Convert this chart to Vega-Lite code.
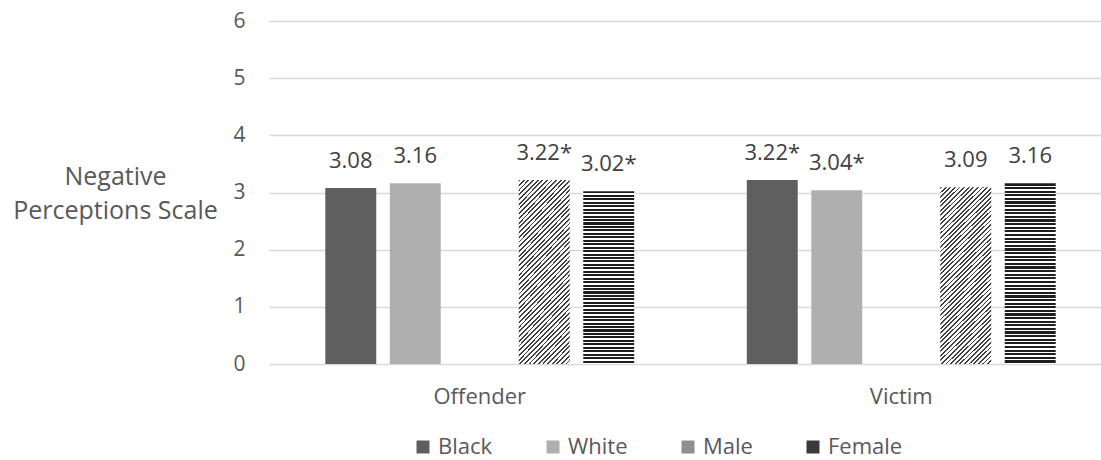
{
  "$schema": "https://vega.github.io/schema/vega-lite/v6.json",
  "width": 832,
  "height": 343,
  "autosize": "none",
  "padding": {"left": 269, "top": 21, "right": 0, "bottom": 96},
  "background": "white",
  "config": {
    "font": "Open Sans",
    "view": {"stroke": null},
    "axis": {"labelFont": "Open Sans", "titleFont": "Open Sans"},
    "legend": {"labelFont": "Open Sans"}
  },
  "data": {
    "values": [
      {"role": "Offender", "group": "Black", "value": 3.08, "label": "3.08"},
      {"role": "Offender", "group": "White", "value": 3.16, "label": "3.16"},
      {"role": "Offender", "group": "Male", "value": 3.22, "label": "3.22*"},
      {"role": "Offender", "group": "Female", "value": 3.02, "label": "3.02*"},
      {"role": "Victim", "group": "Black", "value": 3.22, "label": "3.22*"},
      {"role": "Victim", "group": "White", "value": 3.04, "label": "3.04*"},
      {"role": "Victim", "group": "Male", "value": 3.09, "label": "3.09"},
      {"role": "Victim", "group": "Female", "value": 3.16, "label": "3.16"}
    ]
  },
  "layer": [
    {
      "mark": {"type": "bar"},
      "encoding": {
        "x": {
          "field": "role", "type": "nominal", "sort": ["Offender", "Victim"],
          "scale": {"range": [0, 843], "paddingInner": 0.235, "paddingOuter": 0.1175},
          "axis": {"title": null, "labelAngle": 0, "labelFontSize": 22, "labelColor": "#595959", "labelPadding": 22, "ticks": false, "tickSize": 0, "domain": false, "grid": false}
        },
        "xOffset": {
          "field": "group", "type": "nominal",
          "scale": {"domain": ["Black", "White", "gap", "Male", "Female"], "paddingInner": 0.21, "paddingOuter": 0.105}
        },
        "y": {
          "field": "value", "type": "quantitative",
          "scale": {"domain": [0, 6]},
          "axis": {
            "values": [0, 1, 2, 3, 4, 5, 6], "format": "d",
            "title": ["Negative", "Perceptions Scale"],
            "titleAngle": 0, "titleAlign": "center", "titleBaseline": "middle",
            "titleX": -154, "titleY": 155, "titleFontSize": 25, "titleFontWeight": "normal",
            "titleColor": "#595959", "titleLineHeight": 34,
            "labelFontSize": 21, "labelColor": "#595959", "labelPadding": 24,
            "ticks": false, "tickSize": 0, "domain": false,
            "gridColor": "#d9d9d9", "gridWidth": 1.3
          }
        },
        "fill": {
          "field": "group", "type": "nominal",
          "scale": {"domain": ["Black", "White", "Male", "Female"], "range": ["#5f5f5f", "#afafaf", "#8f8f8f", "#3a3a3a"]},
          "condition": [
            {"test": "datum.group === 'Male'", "value": {"gradient": "linear", "x1": 0, "y1": 0, "x2": 0.3366, "y2": 1.188, "stops": [
              {"offset":0,"color":"#404040"},{"offset":0.008,"color":"#404040"},{"offset":0.008,"color":"#fff"},{"offset":0.02,"color":"#fff"},
              {"offset":0.02,"color":"#404040"},{"offset":0.028,"color":"#404040"},{"offset":0.028,"color":"#fff"},{"offset":0.04,"color":"#fff"},
              {"offset":0.04,"color":"#404040"},{"offset":0.048,"color":"#404040"},{"offset":0.048,"color":"#fff"},{"offset":0.06,"color":"#fff"},
              {"offset":0.06,"color":"#404040"},{"offset":0.068,"color":"#404040"},{"offset":0.068,"color":"#fff"},{"offset":0.08,"color":"#fff"},
              {"offset":0.08,"color":"#404040"},{"offset":0.088,"color":"#404040"},{"offset":0.088,"color":"#fff"},{"offset":0.1,"color":"#fff"},
              {"offset":0.1,"color":"#404040"},{"offset":0.108,"color":"#404040"},{"offset":0.108,"color":"#fff"},{"offset":0.12,"color":"#fff"},
              {"offset":0.12,"color":"#404040"},{"offset":0.128,"color":"#404040"},{"offset":0.128,"color":"#fff"},{"offset":0.14,"color":"#fff"},
              {"offset":0.14,"color":"#404040"},{"offset":0.148,"color":"#404040"},{"offset":0.148,"color":"#fff"},{"offset":0.16,"color":"#fff"},
              {"offset":0.16,"color":"#404040"},{"offset":0.168,"color":"#404040"},{"offset":0.168,"color":"#fff"},{"offset":0.18,"color":"#fff"},
              {"offset":0.18,"color":"#404040"},{"offset":0.188,"color":"#404040"},{"offset":0.188,"color":"#fff"},{"offset":0.2,"color":"#fff"},
              {"offset":0.2,"color":"#404040"},{"offset":0.208,"color":"#404040"},{"offset":0.208,"color":"#fff"},{"offset":0.22,"color":"#fff"},
              {"offset":0.22,"color":"#404040"},{"offset":0.228,"color":"#404040"},{"offset":0.228,"color":"#fff"},{"offset":0.24,"color":"#fff"},
              {"offset":0.24,"color":"#404040"},{"offset":0.248,"color":"#404040"},{"offset":0.248,"color":"#fff"},{"offset":0.26,"color":"#fff"},
              {"offset":0.26,"color":"#404040"},{"offset":0.268,"color":"#404040"},{"offset":0.268,"color":"#fff"},{"offset":0.28,"color":"#fff"},
              {"offset":0.28,"color":"#404040"},{"offset":0.288,"color":"#404040"},{"offset":0.288,"color":"#fff"},{"offset":0.3,"color":"#fff"},
              {"offset":0.3,"color":"#404040"},{"offset":0.308,"color":"#404040"},{"offset":0.308,"color":"#fff"},{"offset":0.32,"color":"#fff"},
              {"offset":0.32,"color":"#404040"},{"offset":0.328,"color":"#404040"},{"offset":0.328,"color":"#fff"},{"offset":0.34,"color":"#fff"},
              {"offset":0.34,"color":"#404040"},{"offset":0.348,"color":"#404040"},{"offset":0.348,"color":"#fff"},{"offset":0.36,"color":"#fff"},
              {"offset":0.36,"color":"#404040"},{"offset":0.368,"color":"#404040"},{"offset":0.368,"color":"#fff"},{"offset":0.38,"color":"#fff"},
              {"offset":0.38,"color":"#404040"},{"offset":0.388,"color":"#404040"},{"offset":0.388,"color":"#fff"},{"offset":0.4,"color":"#fff"},
              {"offset":0.4,"color":"#404040"},{"offset":0.408,"color":"#404040"},{"offset":0.408,"color":"#fff"},{"offset":0.42,"color":"#fff"},
              {"offset":0.42,"color":"#404040"},{"offset":0.428,"color":"#404040"},{"offset":0.428,"color":"#fff"},{"offset":0.44,"color":"#fff"},
              {"offset":0.44,"color":"#404040"},{"offset":0.448,"color":"#404040"},{"offset":0.448,"color":"#fff"},{"offset":0.46,"color":"#fff"},
              {"offset":0.46,"color":"#404040"},{"offset":0.468,"color":"#404040"},{"offset":0.468,"color":"#fff"},{"offset":0.48,"color":"#fff"},
              {"offset":0.48,"color":"#404040"},{"offset":0.488,"color":"#404040"},{"offset":0.488,"color":"#fff"},{"offset":0.5,"color":"#fff"},
              {"offset":0.5,"color":"#404040"},{"offset":0.508,"color":"#404040"},{"offset":0.508,"color":"#fff"},{"offset":0.52,"color":"#fff"},
              {"offset":0.52,"color":"#404040"},{"offset":0.528,"color":"#404040"},{"offset":0.528,"color":"#fff"},{"offset":0.54,"color":"#fff"},
              {"offset":0.54,"color":"#404040"},{"offset":0.548,"color":"#404040"},{"offset":0.548,"color":"#fff"},{"offset":0.56,"color":"#fff"},
              {"offset":0.56,"color":"#404040"},{"offset":0.568,"color":"#404040"},{"offset":0.568,"color":"#fff"},{"offset":0.58,"color":"#fff"},
              {"offset":0.58,"color":"#404040"},{"offset":0.588,"color":"#404040"},{"offset":0.588,"color":"#fff"},{"offset":0.6,"color":"#fff"},
              {"offset":0.6,"color":"#404040"},{"offset":0.608,"color":"#404040"},{"offset":0.608,"color":"#fff"},{"offset":0.62,"color":"#fff"},
              {"offset":0.62,"color":"#404040"},{"offset":0.628,"color":"#404040"},{"offset":0.628,"color":"#fff"},{"offset":0.64,"color":"#fff"},
              {"offset":0.64,"color":"#404040"},{"offset":0.648,"color":"#404040"},{"offset":0.648,"color":"#fff"},{"offset":0.66,"color":"#fff"},
              {"offset":0.66,"color":"#404040"},{"offset":0.668,"color":"#404040"},{"offset":0.668,"color":"#fff"},{"offset":0.68,"color":"#fff"},
              {"offset":0.68,"color":"#404040"},{"offset":0.688,"color":"#404040"},{"offset":0.688,"color":"#fff"},{"offset":0.7,"color":"#fff"},
              {"offset":0.7,"color":"#404040"},{"offset":0.708,"color":"#404040"},{"offset":0.708,"color":"#fff"},{"offset":0.72,"color":"#fff"},
              {"offset":0.72,"color":"#404040"},{"offset":0.728,"color":"#404040"},{"offset":0.728,"color":"#fff"},{"offset":0.74,"color":"#fff"},
              {"offset":0.74,"color":"#404040"},{"offset":0.748,"color":"#404040"},{"offset":0.748,"color":"#fff"},{"offset":0.76,"color":"#fff"},
              {"offset":0.76,"color":"#404040"},{"offset":0.768,"color":"#404040"},{"offset":0.768,"color":"#fff"},{"offset":0.78,"color":"#fff"},
              {"offset":0.78,"color":"#404040"},{"offset":0.788,"color":"#404040"},{"offset":0.788,"color":"#fff"},{"offset":0.8,"color":"#fff"},
              {"offset":0.8,"color":"#404040"},{"offset":0.808,"color":"#404040"},{"offset":0.808,"color":"#fff"},{"offset":0.82,"color":"#fff"},
              {"offset":0.82,"color":"#404040"},{"offset":0.828,"color":"#404040"},{"offset":0.828,"color":"#fff"},{"offset":0.84,"color":"#fff"},
              {"offset":0.84,"color":"#404040"},{"offset":0.848,"color":"#404040"},{"offset":0.848,"color":"#fff"},{"offset":0.86,"color":"#fff"},
              {"offset":0.86,"color":"#404040"},{"offset":0.868,"color":"#404040"},{"offset":0.868,"color":"#fff"},{"offset":0.88,"color":"#fff"},
              {"offset":0.88,"color":"#404040"},{"offset":0.888,"color":"#404040"},{"offset":0.888,"color":"#fff"},{"offset":0.9,"color":"#fff"},
              {"offset":0.9,"color":"#404040"},{"offset":0.908,"color":"#404040"},{"offset":0.908,"color":"#fff"},{"offset":0.92,"color":"#fff"},
              {"offset":0.92,"color":"#404040"},{"offset":0.928,"color":"#404040"},{"offset":0.928,"color":"#fff"},{"offset":0.94,"color":"#fff"},
              {"offset":0.94,"color":"#404040"},{"offset":0.948,"color":"#404040"},{"offset":0.948,"color":"#fff"},{"offset":0.96,"color":"#fff"},
              {"offset":0.96,"color":"#404040"},{"offset":0.968,"color":"#404040"},{"offset":0.968,"color":"#fff"},{"offset":0.98,"color":"#fff"},
              {"offset":0.98,"color":"#404040"},{"offset":0.988,"color":"#404040"},{"offset":0.988,"color":"#fff"},{"offset":1,"color":"#fff"}
            ]}},
            {"test": "datum.group === 'Female'", "value": {"gradient": "linear", "x1": 0, "y1": 0, "x2": 0, "y2": 1, "stops": [
              {"offset":0,"color":"#1e1e1e"},{"offset":0.012,"color":"#1e1e1e"},{"offset":0.012,"color":"#fff"},{"offset":0.02,"color":"#fff"},
              {"offset":0.02,"color":"#1e1e1e"},{"offset":0.032,"color":"#1e1e1e"},{"offset":0.032,"color":"#fff"},{"offset":0.04,"color":"#fff"},
              {"offset":0.04,"color":"#1e1e1e"},{"offset":0.052,"color":"#1e1e1e"},{"offset":0.052,"color":"#fff"},{"offset":0.06,"color":"#fff"},
              {"offset":0.06,"color":"#1e1e1e"},{"offset":0.072,"color":"#1e1e1e"},{"offset":0.072,"color":"#fff"},{"offset":0.08,"color":"#fff"},
              {"offset":0.08,"color":"#1e1e1e"},{"offset":0.092,"color":"#1e1e1e"},{"offset":0.092,"color":"#fff"},{"offset":0.1,"color":"#fff"},
              {"offset":0.1,"color":"#1e1e1e"},{"offset":0.112,"color":"#1e1e1e"},{"offset":0.112,"color":"#fff"},{"offset":0.12,"color":"#fff"},
              {"offset":0.12,"color":"#1e1e1e"},{"offset":0.132,"color":"#1e1e1e"},{"offset":0.132,"color":"#fff"},{"offset":0.14,"color":"#fff"},
              {"offset":0.14,"color":"#1e1e1e"},{"offset":0.152,"color":"#1e1e1e"},{"offset":0.152,"color":"#fff"},{"offset":0.16,"color":"#fff"},
              {"offset":0.16,"color":"#1e1e1e"},{"offset":0.172,"color":"#1e1e1e"},{"offset":0.172,"color":"#fff"},{"offset":0.18,"color":"#fff"},
              {"offset":0.18,"color":"#1e1e1e"},{"offset":0.192,"color":"#1e1e1e"},{"offset":0.192,"color":"#fff"},{"offset":0.2,"color":"#fff"},
              {"offset":0.2,"color":"#1e1e1e"},{"offset":0.212,"color":"#1e1e1e"},{"offset":0.212,"color":"#fff"},{"offset":0.22,"color":"#fff"},
              {"offset":0.22,"color":"#1e1e1e"},{"offset":0.232,"color":"#1e1e1e"},{"offset":0.232,"color":"#fff"},{"offset":0.24,"color":"#fff"},
              {"offset":0.24,"color":"#1e1e1e"},{"offset":0.252,"color":"#1e1e1e"},{"offset":0.252,"color":"#fff"},{"offset":0.26,"color":"#fff"},
              {"offset":0.26,"color":"#1e1e1e"},{"offset":0.272,"color":"#1e1e1e"},{"offset":0.272,"color":"#fff"},{"offset":0.28,"color":"#fff"},
              {"offset":0.28,"color":"#1e1e1e"},{"offset":0.292,"color":"#1e1e1e"},{"offset":0.292,"color":"#fff"},{"offset":0.3,"color":"#fff"},
              {"offset":0.3,"color":"#1e1e1e"},{"offset":0.312,"color":"#1e1e1e"},{"offset":0.312,"color":"#fff"},{"offset":0.32,"color":"#fff"},
              {"offset":0.32,"color":"#1e1e1e"},{"offset":0.332,"color":"#1e1e1e"},{"offset":0.332,"color":"#fff"},{"offset":0.34,"color":"#fff"},
              {"offset":0.34,"color":"#1e1e1e"},{"offset":0.352,"color":"#1e1e1e"},{"offset":0.352,"color":"#fff"},{"offset":0.36,"color":"#fff"},
              {"offset":0.36,"color":"#1e1e1e"},{"offset":0.372,"color":"#1e1e1e"},{"offset":0.372,"color":"#fff"},{"offset":0.38,"color":"#fff"},
              {"offset":0.38,"color":"#1e1e1e"},{"offset":0.392,"color":"#1e1e1e"},{"offset":0.392,"color":"#fff"},{"offset":0.4,"color":"#fff"},
              {"offset":0.4,"color":"#1e1e1e"},{"offset":0.412,"color":"#1e1e1e"},{"offset":0.412,"color":"#fff"},{"offset":0.42,"color":"#fff"},
              {"offset":0.42,"color":"#1e1e1e"},{"offset":0.432,"color":"#1e1e1e"},{"offset":0.432,"color":"#fff"},{"offset":0.44,"color":"#fff"},
              {"offset":0.44,"color":"#1e1e1e"},{"offset":0.452,"color":"#1e1e1e"},{"offset":0.452,"color":"#fff"},{"offset":0.46,"color":"#fff"},
              {"offset":0.46,"color":"#1e1e1e"},{"offset":0.472,"color":"#1e1e1e"},{"offset":0.472,"color":"#fff"},{"offset":0.48,"color":"#fff"},
              {"offset":0.48,"color":"#1e1e1e"},{"offset":0.492,"color":"#1e1e1e"},{"offset":0.492,"color":"#fff"},{"offset":0.5,"color":"#fff"},
              {"offset":0.5,"color":"#1e1e1e"},{"offset":0.512,"color":"#1e1e1e"},{"offset":0.512,"color":"#fff"},{"offset":0.52,"color":"#fff"},
              {"offset":0.52,"color":"#1e1e1e"},{"offset":0.532,"color":"#1e1e1e"},{"offset":0.532,"color":"#fff"},{"offset":0.54,"color":"#fff"},
              {"offset":0.54,"color":"#1e1e1e"},{"offset":0.552,"color":"#1e1e1e"},{"offset":0.552,"color":"#fff"},{"offset":0.56,"color":"#fff"},
              {"offset":0.56,"color":"#1e1e1e"},{"offset":0.572,"color":"#1e1e1e"},{"offset":0.572,"color":"#fff"},{"offset":0.58,"color":"#fff"},
              {"offset":0.58,"color":"#1e1e1e"},{"offset":0.592,"color":"#1e1e1e"},{"offset":0.592,"color":"#fff"},{"offset":0.6,"color":"#fff"},
              {"offset":0.6,"color":"#1e1e1e"},{"offset":0.612,"color":"#1e1e1e"},{"offset":0.612,"color":"#fff"},{"offset":0.62,"color":"#fff"},
              {"offset":0.62,"color":"#1e1e1e"},{"offset":0.632,"color":"#1e1e1e"},{"offset":0.632,"color":"#fff"},{"offset":0.64,"color":"#fff"},
              {"offset":0.64,"color":"#1e1e1e"},{"offset":0.652,"color":"#1e1e1e"},{"offset":0.652,"color":"#fff"},{"offset":0.66,"color":"#fff"},
              {"offset":0.66,"color":"#1e1e1e"},{"offset":0.672,"color":"#1e1e1e"},{"offset":0.672,"color":"#fff"},{"offset":0.68,"color":"#fff"},
              {"offset":0.68,"color":"#1e1e1e"},{"offset":0.692,"color":"#1e1e1e"},{"offset":0.692,"color":"#fff"},{"offset":0.7,"color":"#fff"},
              {"offset":0.7,"color":"#1e1e1e"},{"offset":0.712,"color":"#1e1e1e"},{"offset":0.712,"color":"#fff"},{"offset":0.72,"color":"#fff"},
              {"offset":0.72,"color":"#1e1e1e"},{"offset":0.732,"color":"#1e1e1e"},{"offset":0.732,"color":"#fff"},{"offset":0.74,"color":"#fff"},
              {"offset":0.74,"color":"#1e1e1e"},{"offset":0.752,"color":"#1e1e1e"},{"offset":0.752,"color":"#fff"},{"offset":0.76,"color":"#fff"},
              {"offset":0.76,"color":"#1e1e1e"},{"offset":0.772,"color":"#1e1e1e"},{"offset":0.772,"color":"#fff"},{"offset":0.78,"color":"#fff"},
              {"offset":0.78,"color":"#1e1e1e"},{"offset":0.792,"color":"#1e1e1e"},{"offset":0.792,"color":"#fff"},{"offset":0.8,"color":"#fff"},
              {"offset":0.8,"color":"#1e1e1e"},{"offset":0.812,"color":"#1e1e1e"},{"offset":0.812,"color":"#fff"},{"offset":0.82,"color":"#fff"},
              {"offset":0.82,"color":"#1e1e1e"},{"offset":0.832,"color":"#1e1e1e"},{"offset":0.832,"color":"#fff"},{"offset":0.84,"color":"#fff"},
              {"offset":0.84,"color":"#1e1e1e"},{"offset":0.852,"color":"#1e1e1e"},{"offset":0.852,"color":"#fff"},{"offset":0.86,"color":"#fff"},
              {"offset":0.86,"color":"#1e1e1e"},{"offset":0.872,"color":"#1e1e1e"},{"offset":0.872,"color":"#fff"},{"offset":0.88,"color":"#fff"},
              {"offset":0.88,"color":"#1e1e1e"},{"offset":0.892,"color":"#1e1e1e"},{"offset":0.892,"color":"#fff"},{"offset":0.9,"color":"#fff"},
              {"offset":0.9,"color":"#1e1e1e"},{"offset":0.912,"color":"#1e1e1e"},{"offset":0.912,"color":"#fff"},{"offset":0.92,"color":"#fff"},
              {"offset":0.92,"color":"#1e1e1e"},{"offset":0.932,"color":"#1e1e1e"},{"offset":0.932,"color":"#fff"},{"offset":0.94,"color":"#fff"},
              {"offset":0.94,"color":"#1e1e1e"},{"offset":0.952,"color":"#1e1e1e"},{"offset":0.952,"color":"#fff"},{"offset":0.96,"color":"#fff"},
              {"offset":0.96,"color":"#1e1e1e"},{"offset":0.972,"color":"#1e1e1e"},{"offset":0.972,"color":"#fff"},{"offset":0.98,"color":"#fff"},
              {"offset":0.98,"color":"#1e1e1e"},{"offset":0.992,"color":"#1e1e1e"},{"offset":0.992,"color":"#fff"},{"offset":1,"color":"#fff"}
            ]}}
          ],
          "legend": {
            "title": null, "orient": "none", "legendX": 143, "legendY": 415,
            "direction": "horizontal", "symbolType": "square", "symbolSize": 169,
            "labelFontSize": 22, "labelColor": "#595959", "labelOffset": 4,
            "columnPadding": 49, "padding": 0, "symbolStrokeWidth": 0, "gridAlign": "none"
          }
        }
      }
    },
    {
      "mark": {"type": "text", "align": "center", "baseline": "alphabetic", "dy": -20, "fontSize": 22, "color": "#404040", "font": "Open Sans"},
      "encoding": {
        "x": {"field": "role", "type": "nominal", "sort": ["Offender", "Victim"]},
        "xOffset": {"field": "group", "type": "nominal"},
        "y": {"field": "value", "type": "quantitative"},
        "text": {"field": "label", "type": "nominal"}
      }
    }
  ]
}
